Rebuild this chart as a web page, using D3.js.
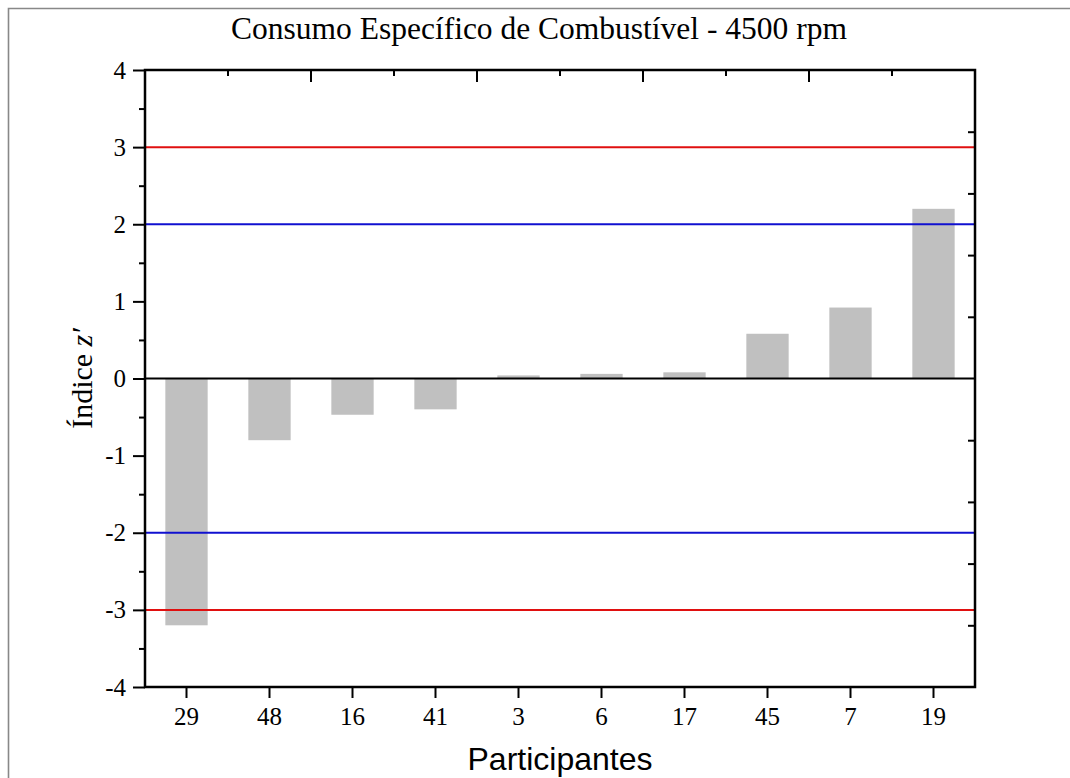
<!DOCTYPE html>
<html>
<head>
<meta charset="utf-8">
<script src="https://cdn.jsdelivr.net/npm/d3@7"></script>
<style>
  html, body { margin: 0; padding: 0; background: #fff; }
  svg { display: block; }
</style>
</head>
<body>
<script>
// Participants, ordered by z' score
const participants = ["29", "48", "16", "41", "3", "6", "17", "45", "7", "19"];
const zScores = [-3.2, -0.8, -0.47, -0.4, 0.04, 0.06, 0.08, 0.58, 0.92, 2.2];
const yTicks = [-4, -3, -2, -1, 0, 1, 2, 3, 4];
// Reference limits: |z'| = 2 (warning) and |z'| = 3 (action)
const warnLimits = [2, -2];
const actionLimits = [3, -3];

const W = 1070, H = 778;
const m = { left: 145, right: 975, top: 70, bottom: 687 };

const svg = d3.select("body").append("svg").attr("width", W).attr("height", H);

// outer frame (top and left edges only)
svg.append("path")
  .attr("d", `M8.5,${H} V8.5 H${W}`)
  .attr("fill", "none").attr("stroke", "#888").attr("stroke-width", 1.6);

const x = d3.scaleBand().domain(participants).range([m.left, m.right]).paddingInner(0.49).paddingOuter(0.245);
const xStep = (m.right - m.left) / participants.length;
const y = d3.scaleLinear().domain([-4, 4]).range([m.bottom, m.top]);

// bars
svg.append("g").selectAll("rect").data(zScores).join("rect")
  .attr("x", (d, i) => x(participants[i]))
  .attr("width", x.bandwidth())
  .attr("y", d => y(Math.max(0, d)))
  .attr("height", d => Math.abs(y(d) - y(0)))
  .attr("fill", "#c0c0c0");

// limit lines
const limits = [...warnLimits.map(v => ({ v, c: "#1010d0" })), ...actionLimits.map(v => ({ v, c: "#e01010" }))];
svg.append("g").selectAll("line").data(limits).join("line")
  .attr("x1", m.left).attr("x2", m.right)
  .attr("y1", d => y(d.v)).attr("y2", d => y(d.v))
  .attr("stroke", d => d.c).attr("stroke-width", 2);

// zero line
svg.append("line")
  .attr("x1", m.left).attr("x2", m.right)
  .attr("y1", y(0)).attr("y2", y(0))
  .attr("stroke", "#000").attr("stroke-width", 2);

const serif = "'Liberation Serif', 'Times New Roman', serif";

// left axis: major ticks with labels, minor ticks between
const leftAxis = d3.axisLeft(y).tickValues(yTicks).tickSize(12).tickPadding(7).tickFormat(d => String(d));
const gl = svg.append("g").attr("transform", `translate(${m.left},0)`).call(leftAxis);
gl.select(".domain").remove();
gl.selectAll(".tick line").attr("stroke-width", 2);
gl.selectAll(".tick text").attr("font-family", serif).attr("font-size", 25).attr("fill", "#000");
const gl2 = svg.append("g").attr("transform", `translate(${m.left},0)`)
  .call(d3.axisLeft(y).tickValues(d3.range(-3.5, 4, 1)).tickSize(6).tickFormat(""));
gl2.select(".domain").remove();
gl2.selectAll(".tick line").attr("stroke-width", 2);

// right axis: inward ticks
const gr = svg.append("g").attr("transform", `translate(${m.right},0)`)
  .call(d3.axisLeft(y).tickValues([-3.2, -2.4, -1.6, -0.8, 0.8, 1.6, 2.4, 3.2]).tickSize(7).tickFormat(""));
gr.select(".domain").remove();
gr.selectAll(".tick line").attr("stroke-width", 2);

// bottom axis
const gb = svg.append("g").attr("transform", `translate(0,${m.bottom})`)
  .call(d3.axisBottom(x).tickSize(11).tickPadding(9));
gb.select(".domain").remove();
gb.selectAll(".tick line").attr("stroke-width", 2);
gb.selectAll(".tick text").attr("font-family", serif).attr("font-size", 25).attr("fill", "#000");

// top axis: inward ticks at band boundaries, alternating length
const bounds = participants.slice(1).map((p, i) => ({ pos: m.left + xStep * (i + 1), long: i % 2 === 1 }));
svg.append("g").selectAll("line").data(bounds).join("line")
  .attr("x1", d => d.pos).attr("x2", d => d.pos)
  .attr("y1", m.top).attr("y2", d => m.top + (d.long ? 12 : 6))
  .attr("stroke", "#000").attr("stroke-width", 2);

// plot frame
svg.append("rect")
  .attr("x", m.left).attr("y", m.top)
  .attr("width", m.right - m.left).attr("height", m.bottom - m.top)
  .attr("fill", "none").attr("stroke", "#000").attr("stroke-width", 2.5);

// title
svg.append("text")
  .attr("x", 539).attr("y", 39)
  .attr("text-anchor", "middle")
  .attr("font-family", serif).attr("font-size", 31.5)
  .text("Consumo Específico de Combustível - 4500 rpm");

// axis titles
svg.append("text")
  .attr("x", (m.left + m.right) / 2).attr("y", 770)
  .attr("text-anchor", "middle")
  .attr("font-family", "'Liberation Sans', Arial, sans-serif").attr("font-size", 32)
  .text("Participantes");

const yt = svg.append("text")
  .attr("transform", `translate(92,${y(0)}) rotate(-90)`)
  .attr("text-anchor", "middle")
  .attr("font-family", serif).attr("font-size", 30);
yt.append("tspan").text("Índice ");
yt.append("tspan").attr("font-style", "italic").text("z′");
</script>
</body>
</html>
